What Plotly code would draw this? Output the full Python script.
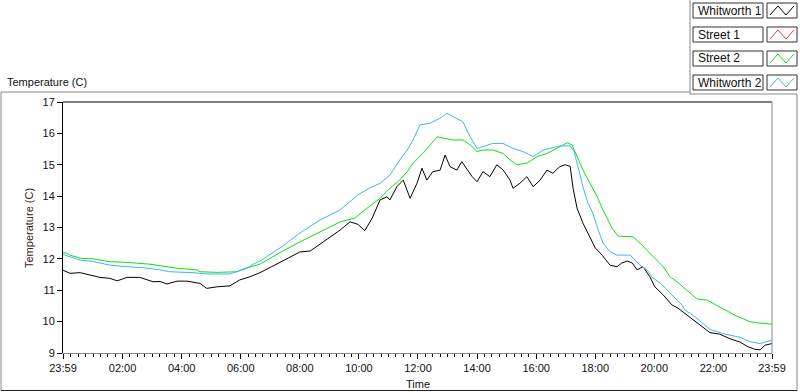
import plotly.graph_objects as go
from datetime import datetime, timedelta

# ---------------- data ----------------
W1_TIMES = ["23:59", "00:13", "00:34", "00:54", "01:14", "01:34", "01:49", "02:09", "02:35", "03:02",
            "03:16", "03:30", "03:51", "04:11", "04:37", "04:51", "05:12", "05:38", "05:58", "06:19",
            "06:39", "06:59", "07:20", "07:40", "08:00", "08:21", "08:41", "09:01", "09:22", "09:42",
            "09:58", "10:12", "10:27", "10:43", "10:57", "11:03", "11:17", "11:30", "11:44", "11:58",
            "12:08", "12:18", "12:30", "12:45", "12:55", "13:05", "13:19", "13:29", "13:40", "13:50",
            "14:00", "14:12", "14:26", "14:40", "14:53", "15:07", "15:13", "15:27", "15:41", "15:54",
            "16:08", "16:22", "16:34", "16:48", "16:59", "17:09", "17:15", "17:23", "17:35", "17:49",
            "18:00", "18:14", "18:30", "18:44", "18:54", "19:05", "19:15", "19:25", "19:37", "19:51",
            "20:01", "20:18", "20:36", "20:48", "21:12", "21:33", "21:53", "22:13", "22:34", "22:54",
            "23:10", "23:24", "23:35", "23:45", "23:59"]
W1_TEMPS = [11.64, 11.54, 11.56, 11.49, 11.41, 11.38, 11.30, 11.41, 11.41, 11.27,
            11.28, 11.20, 11.29, 11.29, 11.22, 11.06, 11.11, 11.14, 11.33, 11.43,
            11.56, 11.72, 11.90, 12.05, 12.22, 12.25, 12.47, 12.67, 12.92, 13.18,
            13.10, 12.90, 13.30, 13.88, 13.98, 13.88, 14.30, 14.51, 13.93, 14.41,
            14.89, 14.51, 14.78, 14.83, 15.31, 14.94, 14.83, 15.10, 14.83, 14.62,
            14.46, 14.78, 14.62, 15.00, 14.83, 14.51, 14.25, 14.41, 14.62, 14.30,
            14.51, 14.83, 14.73, 14.94, 15.00, 14.95, 14.25, 13.62, 13.14, 12.70,
            12.35, 12.12, 11.80, 11.75, 11.87, 11.93, 11.87, 11.65, 11.75, 11.43,
            11.11, 10.85, 10.53, 10.43, 10.15, 9.90, 9.65, 9.60, 9.45, 9.35,
            9.20, 9.12, 9.10, 9.25, 9.30]

W2_TIMES = ["23:59", "00:13", "00:34", "01:00", "01:34", "02:09", "02:41", "03:16", "03:36", "04:23",
            "04:37", "04:51", "05:38", "05:52", "06:13", "06:25", "06:39", "07:20", "08:00", "08:41",
            "09:22", "09:58", "10:22", "10:43", "11:03", "11:23", "11:38", "11:50", "12:04", "12:24",
            "12:45", "12:59", "13:11", "13:31", "13:46", "14:00", "14:12", "14:32", "14:53", "15:13",
            "15:33", "15:54", "16:14", "16:34", "16:48", "17:09", "17:17", "17:25", "17:35", "17:45",
            "17:55", "18:06", "18:16", "18:30", "18:44", "19:11", "19:21", "19:31", "19:45", "19:57",
            "20:12", "20:26", "20:38", "20:56", "21:02", "21:23", "21:53", "22:24", "22:54", "23:14",
            "23:35", "23:59"]
W2_TEMPS = [12.14, 12.07, 11.96, 11.92, 11.80, 11.75, 11.72, 11.65, 11.59, 11.56,
            11.54, 11.52, 11.52, 11.59, 11.70, 11.83, 11.93, 12.35, 12.82, 13.24,
            13.56, 14.04, 14.26, 14.41, 14.67, 15.15, 15.47, 15.79, 16.27, 16.32,
            16.48, 16.64, 16.53, 16.37, 15.89, 15.52, 15.58, 15.68, 15.68, 15.52,
            15.42, 15.26, 15.47, 15.55, 15.60, 15.60, 15.42, 14.94, 14.30, 13.78,
            13.46, 12.92, 12.50, 12.23, 12.12, 12.12, 11.96, 11.80, 11.65, 11.39,
            11.23, 11.00, 10.80, 10.53, 10.37, 10.15, 9.75, 9.60, 9.50, 9.36,
            9.30, 9.41]

S2_TIMES = ["23:59", "00:07", "00:13", "00:34", "01:00", "01:34", "02:09", "02:35", "02:56", "03:30",
            "03:51", "04:31", "04:37", "05:12", "05:38", "05:52", "06:05", "06:25", "06:39", "07:20",
            "08:00", "08:41", "09:22", "09:52", "10:12", "10:43", "11:03", "11:23", "11:38", "11:50",
            "12:10", "12:39", "12:59", "13:11", "13:31", "13:46", "14:00", "14:12", "14:32", "14:53",
            "15:07", "15:21", "15:41", "16:02", "16:22", "16:42", "17:03", "17:13", "17:23", "17:35",
            "17:49", "18:04", "18:14", "18:24", "18:34", "18:46", "19:17", "19:31", "19:45", "20:01",
            "20:18", "20:32", "20:46", "21:06", "21:27", "21:47", "22:07", "22:17", "22:44", "23:14",
            "23:35", "23:59"]
S2_TEMPS = [12.20, 12.18, 12.12, 12.02, 12.00, 11.91, 11.89, 11.86, 11.83, 11.75,
            11.70, 11.65, 11.59, 11.57, 11.57, 11.59, 11.68, 11.78, 11.83, 12.20,
            12.54, 12.86, 13.18, 13.30, 13.56, 13.93, 14.25, 14.51, 14.78, 15.05,
            15.36, 15.89, 15.84, 15.79, 15.79, 15.63, 15.42, 15.47, 15.47, 15.36,
            15.15, 15.00, 15.05, 15.26, 15.36, 15.52, 15.70, 15.63, 15.26, 14.83,
            14.42, 13.98, 13.62, 13.30, 12.98, 12.73, 12.70, 12.50, 12.28, 12.03,
            11.75, 11.43, 11.27, 11.00, 10.72, 10.69, 10.53, 10.43, 10.20, 10.00,
            9.95, 9.92]

X_TICK_TIMES = ["23:59", "02:00", "04:00", "06:00", "08:00", "10:00", "12:00",
                "14:00", "16:00", "18:00", "20:00", "22:00", "23:59"]
Y_TICKS = [9, 10, 11, 12, 13, 14, 15, 16, 17]

LEGEND_NAMES = ["Whitworth 1", "Street 1", "Street 2", "Whitworth 2"]
LEGEND_COLORS = ["#000000", "#ff3030", "#10e010", "#40b4f4"]

# ---------------- helpers ----------------
BASE = datetime(2013, 1, 1)


def to_dt(times):
    out = []
    for i, t in enumerate(times):
        h, m = map(int, t.split(":"))
        day = 0 if i == 0 else 1
        out.append(BASE + timedelta(days=day, hours=h, minutes=m))
    return out


W, H = 800, 392
L, R, T, B = 63, 28, 102, 39
PW, PH = W - L - R, H - T - B


def px(x):
    return (x - L) / PW


def py(y):
    return (H - B - y) / PH


FONT = "Liberation Sans, Arial, sans-serif"

fig = go.Figure()
fig.add_trace(go.Scatter(x=to_dt(W1_TIMES), y=W1_TEMPS, mode="lines", name=LEGEND_NAMES[0],
                         line=dict(color=LEGEND_COLORS[0], width=1)))
fig.add_trace(go.Scatter(x=to_dt(S2_TIMES), y=S2_TEMPS, mode="lines", name=LEGEND_NAMES[2],
                         line=dict(color=LEGEND_COLORS[2], width=1)))
fig.add_trace(go.Scatter(x=to_dt(W2_TIMES), y=W2_TEMPS, mode="lines", name=LEGEND_NAMES[3],
                         line=dict(color=LEGEND_COLORS[3], width=1)))

xt = to_dt(X_TICK_TIMES)
fig.update_xaxes(
    range=[xt[0], xt[-1]], tickvals=xt, ticktext=X_TICK_TIMES,
    ticks="outside", ticklen=5, tickcolor="black", tickwidth=1,
    showgrid=False, zeroline=False,
    showline=True, linecolor="#888888", linewidth=1,
    tickfont=dict(family=FONT, size=11, color="#101010"),
    minor=dict(ticks="outside", ticklen=3, tickcolor="black",
               dtick=15 * 60 * 1000, tick0="2013-01-02 00:00", showgrid=False),
)
fig.update_yaxes(
    range=[9, 17], tickvals=Y_TICKS, ticks="outside", ticklen=5, tickcolor="black",
    showgrid=False, zeroline=False,
    showline=True, linecolor="black", linewidth=1,
    tickfont=dict(family=FONT, size=11, color="#101010"),
)

shapes = []
gray = "#888888"


def line(x0, y0, x1, y1, color, width=1):
    shapes.append(dict(type="line", xref="paper", yref="paper",
                       x0=px(x0), y0=py(y0), x1=px(x1), y1=py(y1),
                       line=dict(color=color, width=width)))


# plot frame: top black, right gray
line(63, 102, 772, 102, "black")
line(772, 102, 772, 353, gray)
# outer frame
line(1, 92, 1, 391, gray)
line(1, 92, 690, 92, gray)
line(690, 0, 690, 94, gray)
line(690, 94, 797, 94, gray)
line(797, 94, 797, 391, gray)
line(1, 390.5, 797, 390.5, "#202020")

annotations = []
# legend boxes
row_top = [3, 27, 51, 75]
for name, col, yt in zip(LEGEND_NAMES, LEGEND_COLORS, row_top):
    yb = yt + 15
    shapes.append(dict(type="rect", xref="paper", yref="paper",
                       x0=px(693), x1=px(763), y0=py(yb), y1=py(yt),
                       line=dict(color="#303030", width=1), fillcolor="white"))
    shapes.append(dict(type="rect", xref="paper", yref="paper",
                       x0=px(767), x1=px(797), y0=py(yb), y1=py(yt),
                       line=dict(color="#303030", width=1), fillcolor="white"))
    pts = [(770, yb - 3), (778, yt + 3), (786, yb - 3), (794, yt + 3)]
    path = "M " + " L ".join(f"{px(a):.5f},{py(b):.5f}" for a, b in pts)
    shapes.append(dict(type="path", xref="paper", yref="paper", path=path,
                       line=dict(color=col, width=1)))
    annotations.append(dict(text=name, xref="paper", yref="paper", x=px(696), y=py(yt + 7.5),
                            xanchor="left", yanchor="middle", showarrow=False,
                            font=dict(family=FONT, size=12, color="#101010")))

annotations.append(dict(text="Temperature (C)", xref="paper", yref="paper", x=px(5), y=py(82),
                        xanchor="left", yanchor="middle", showarrow=False,
                        font=dict(family=FONT, size=11, color="#101010")))
annotations.append(dict(text="Temperature (C)", xref="paper", yref="paper", x=px(29), y=py(228),
                        xanchor="center", yanchor="middle", showarrow=False, textangle=-90,
                        font=dict(family=FONT, size=11, color="#3a1818")))
annotations.append(dict(text="Time", xref="paper", yref="paper", x=px(418), y=py(384),
                        xanchor="center", yanchor="middle", showarrow=False,
                        font=dict(family=FONT, size=11, color="#101010")))

fig.update_layout(
    width=W, height=H, margin=dict(l=L, r=R, t=T, b=B, pad=0),
    paper_bgcolor="white", plot_bgcolor="white", showlegend=False,
    shapes=shapes, annotations=annotations,
)

fig.write_html("out.html", config={"displayModeBar": False},
               post_script="document.body.style.margin='0';document.body.style.overflow='hidden';")
